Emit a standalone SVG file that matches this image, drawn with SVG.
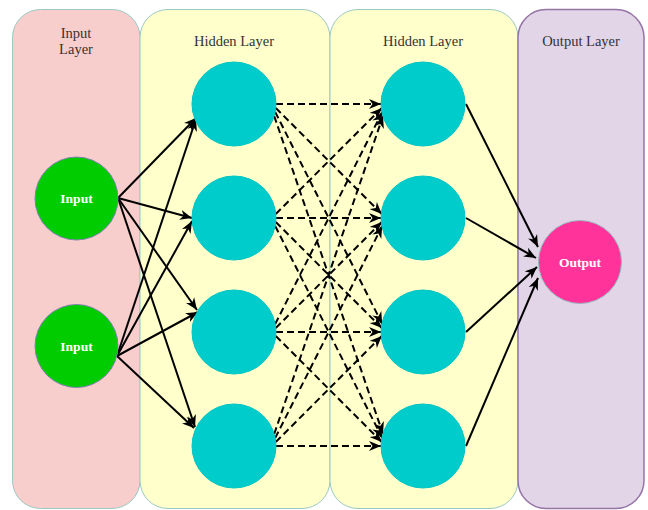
<svg xmlns="http://www.w3.org/2000/svg" width="648" height="510" viewBox="0 0 648 510">
<style>
.lbl{font-family:"Liberation Serif","Times New Roman",serif;font-size:14.5px;fill:#333333;text-anchor:middle}
.nl{font-family:"Liberation Serif","Times New Roman",serif;font-size:13.5px;font-weight:bold;fill:#ffffff;text-anchor:middle}
.solid{fill:none;stroke:#000;stroke-width:2}
.dash{fill:none;stroke:#000;stroke-width:2;stroke-dasharray:7 4}
.hid{fill:#00cccc;stroke:#00c4c4;stroke-width:1}
.inp{fill:#00cc00;stroke:#8080b0;stroke-width:1}
</style>
<defs>
<marker id="ah" markerUnits="userSpaceOnUse" markerWidth="13" markerHeight="11" refX="12" refY="5" orient="auto" viewBox="0 0 13 10">
<path d="M0,0 L12,5 L0,10 L3.5,5 Z" fill="#000"/>
</marker>
</defs>
<g id="panel-input">
<rect x="12.5" y="9.5" width="127.5" height="499" rx="28" fill="#f8cecc" stroke="#9cc8c4" stroke-width="1"/>
<text class="lbl" x="76" y="38">Input</text>
<text class="lbl" x="76" y="54">Layer</text>
</g>
<g id="panel-hidden1">
<rect x="140" y="9.5" width="190" height="499" rx="28" fill="#ffffcc" stroke="#9cc8c4" stroke-width="1"/>
<text class="lbl" x="234" y="46">Hidden Layer</text>
</g>
<g id="panel-hidden2">
<rect x="330" y="9.5" width="188" height="499" rx="28" fill="#ffffcc" stroke="#9cc8c4" stroke-width="1"/>
<text class="lbl" x="423" y="46">Hidden Layer</text>
</g>
<g id="panel-output">
<rect x="518" y="9.5" width="126" height="499" rx="28" fill="#e1d5e7" stroke="#9673a6" stroke-width="1.5"/>
<text class="lbl" x="581" y="46">Output Layer</text>
</g>
<g id="connectors">
<path class="solid" d="M118,198 L196,118" marker-end="url(#ah)"/>
<path class="solid" d="M118,198 L192,218" marker-end="url(#ah)"/>
<path class="solid" d="M118,198 L197,310" marker-end="url(#ah)"/>
<path class="solid" d="M118,198 L195,427" marker-end="url(#ah)"/>
<path class="solid" d="M117,356 L196,119" marker-end="url(#ah)"/>
<path class="solid" d="M117,356 L192,221" marker-end="url(#ah)"/>
<path class="solid" d="M117,356 L198,312" marker-end="url(#ah)"/>
<path class="solid" d="M117,356 L194,428" marker-end="url(#ah)"/>
<path class="dash" d="M276,104 L381,104" marker-end="url(#ah)"/>
<path class="dash" d="M275.8,108 L381.8,214" marker-end="url(#ah)"/>
<path class="dash" d="M275.2,112 L382.2,324" marker-end="url(#ah)"/>
<path class="dash" d="M274.2,116 L383,434" marker-end="url(#ah)"/>
<path class="dash" d="M275.8,214 L381.8,108" marker-end="url(#ah)"/>
<path class="dash" d="M276,218 L381,218" marker-end="url(#ah)"/>
<path class="dash" d="M275.8,222 L381.8,328" marker-end="url(#ah)"/>
<path class="dash" d="M275.2,226 L382.2,438" marker-end="url(#ah)"/>
<path class="dash" d="M275.2,324 L382.2,112" marker-end="url(#ah)"/>
<path class="dash" d="M275.8,328 L381.8,222" marker-end="url(#ah)"/>
<path class="dash" d="M276,332 L381,332" marker-end="url(#ah)"/>
<path class="dash" d="M275.8,336 L381.8,442" marker-end="url(#ah)"/>
<path class="dash" d="M274.2,434 L383,116" marker-end="url(#ah)"/>
<path class="dash" d="M275.2,438 L382.2,226" marker-end="url(#ah)"/>
<path class="dash" d="M275.8,442 L381.8,336" marker-end="url(#ah)"/>
<path class="dash" d="M276,446 L381,446" marker-end="url(#ah)"/>
<path class="solid" d="M466,104 L538,247" marker-end="url(#ah)"/>
<path class="solid" d="M466,218 L536,258" marker-end="url(#ah)"/>
<path class="solid" d="M466,332 L537,267" marker-end="url(#ah)"/>
<path class="solid" d="M466,446 L538,278" marker-end="url(#ah)"/>
</g>
<g id="input1"><circle class="inp" cx="76.5" cy="198.5" r="41.5"/><text class="nl" x="76.5" y="203">Input</text></g>
<g id="input2"><circle class="inp" cx="76.5" cy="346" r="41.5"/><text class="nl" x="76.5" y="351">Input</text></g>
<g id="h1n1"><circle class="hid" cx="234" cy="104" r="42"/></g>
<g id="h1n2"><circle class="hid" cx="234" cy="218" r="42"/></g>
<g id="h1n3"><circle class="hid" cx="234" cy="332" r="42"/></g>
<g id="h1n4"><circle class="hid" cx="234" cy="446" r="42"/></g>
<g id="h2n1"><circle class="hid" cx="423" cy="104" r="42"/></g>
<g id="h2n2"><circle class="hid" cx="423" cy="218" r="42"/></g>
<g id="h2n3"><circle class="hid" cx="423" cy="332" r="42"/></g>
<g id="h2n4"><circle class="hid" cx="423" cy="446" r="42"/></g>
<g id="output"><circle cx="580" cy="262" r="41.5" fill="#ff3399" stroke="#9cb8c0" stroke-width="1"/><text class="nl" x="580" y="267">Output</text></g>
</svg>
